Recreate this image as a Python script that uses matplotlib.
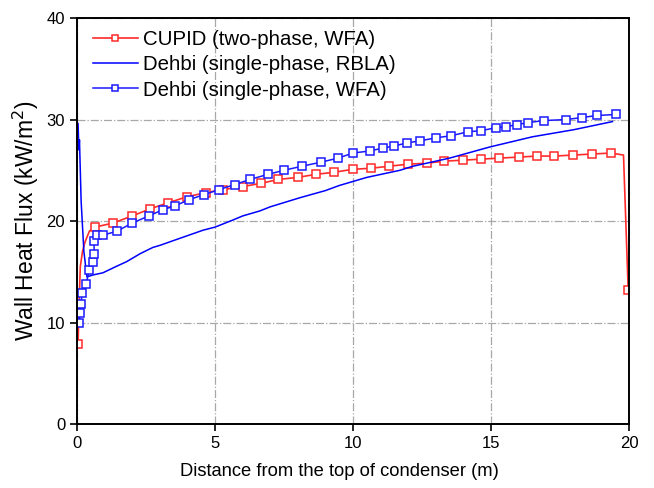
import matplotlib
matplotlib.use("Agg")
import matplotlib.pyplot as plt

plt.rcParams['font.family'] = ['Liberation Sans', 'DejaVu Sans']

# CUPID (two-phase, WFA)
cupid_x = [0.04, 0.08, 0.12, 0.2, 0.3, 0.45,
           0.65, 1.3, 2.0, 2.65, 3.3, 4.0, 4.67, 5.3, 6.0, 6.65, 7.3, 8.0, 8.65, 9.3,
           10.0, 10.65, 11.3, 12.0, 12.67, 13.3, 14.0, 14.65, 15.3, 16.0, 16.65, 17.3,
           17.97, 18.65, 19.35, 19.8, 19.97]
cupid_y = [7.9, 12.0, 15.5, 17.0, 18.0, 19.0,
           19.4, 19.8, 20.5, 21.2, 21.8, 22.4, 22.8, 23.1, 23.4, 23.7, 24.1, 24.3, 24.6, 24.8,
           25.1, 25.2, 25.4, 25.6, 25.7, 25.9, 26.0, 26.1, 26.2, 26.3, 26.4, 26.4,
           26.5, 26.6, 26.7, 26.5, 13.2]
cupid_marks = [0] + list(range(6, 35)) + [36]

# Dehbi (single-phase, RBLA)
rbla_x = [0.04, 0.07, 0.09, 0.15, 0.25, 0.36, 0.6, 0.94, 1.4, 1.8, 2.3, 2.75, 3.0, 3.73,
          4.57, 5.0, 5.65, 6.0, 6.63, 7.0, 8.08, 9.0, 9.5, 10.5, 11.7, 12.17, 13.5, 14.96,
          16.5, 18.0, 19.4]
rbla_y = [29.6, 27.0, 28.0, 22.0, 17.0, 14.5, 14.7, 14.9, 15.5, 16.0, 16.8, 17.4, 17.6, 18.3,
          19.1, 19.4, 20.1, 20.5, 21.0, 21.4, 22.3, 23.0, 23.5, 24.3, 25.0, 25.4, 26.2, 27.3,
          28.3, 29.0, 29.8]

# Dehbi (single-phase, WFA)
wfa_x = [0.07, 0.12, 0.13, 0.2, 0.33, 0.45, 0.58, 0.62, 0.62, 0.72, 0.93, 1.45, 2.0, 2.6,
         3.1, 3.55, 4.06, 4.6, 5.15, 5.72, 6.27, 6.92, 7.5, 8.15, 8.84, 9.46, 10.0, 10.6,
         11.1, 11.5, 11.96, 12.43, 13.0, 13.55, 14.17, 14.64, 15.18, 15.55, 15.94, 16.34,
         16.92, 17.72, 18.3, 18.84, 19.53]
wfa_y = [10.0, 10.9, 11.8, 12.9, 13.8, 15.2, 16.0, 16.8, 18.0, 18.6, 18.6, 19.0, 19.8, 20.5,
         21.1, 21.5, 22.1, 22.6, 23.1, 23.6, 24.1, 24.6, 25.0, 25.4, 25.8, 26.2, 26.7, 26.9,
         27.2, 27.4, 27.7, 27.9, 28.2, 28.4, 28.8, 28.9, 29.2, 29.3, 29.5, 29.7,
         29.9, 30.0, 30.2, 30.4, 30.5]

fig = plt.figure(figsize=(6.54, 4.88), dpi=100)
ax = fig.add_axes([0.1177, 0.1311, 0.8441, 0.8319])

ax.plot(cupid_x, cupid_y, color='#ff2a2a', lw=1.2, marker='s', markevery=cupid_marks,
        ms=5.5, mfc='white', mec='#ff2a2a', mew=1.1, label='CUPID (two-phase, WFA)')
ax.plot(rbla_x, rbla_y, color='#0000ff', lw=1.1, label='Dehbi (single-phase, RBLA)')
ax.plot(wfa_x, wfa_y, color='#1a1aff', lw=1.1, marker='s', ms=5.5, mfc='white',
        mec='#1a1aff', mew=1.1, label='Dehbi (single-phase, WFA)')

ax.set_xlim(0, 20)
ax.set_ylim(0, 40)
ax.set_xticks([0, 5, 10, 15, 20])
ax.set_yticks([0, 10, 20, 30, 40])
ax.grid(True, color='#a8a8a8', linestyle='-.', linewidth=0.9)
ax.tick_params(direction='out', length=5, width=1.2, labelsize=12)
for s in ax.spines.values():
    s.set_linewidth(1.4)

ax.set_xlabel('Distance from the top of condenser (m)', fontsize=13.2)
ax.xaxis.set_label_coords(0.476, -0.095)
ax.set_ylabel('Wall Heat Flux (kW/m$^2$)', fontsize=16.5, labelpad=4)

ax.legend(loc='upper left', frameon=False, fontsize=14.7, handlelength=2.2,
          handletextpad=0.27, labelspacing=0.3, borderaxespad=0.0,
          bbox_to_anchor=(0.014, 0.99), markerscale=0.8)

fig.savefig('out.png', dpi=100)
